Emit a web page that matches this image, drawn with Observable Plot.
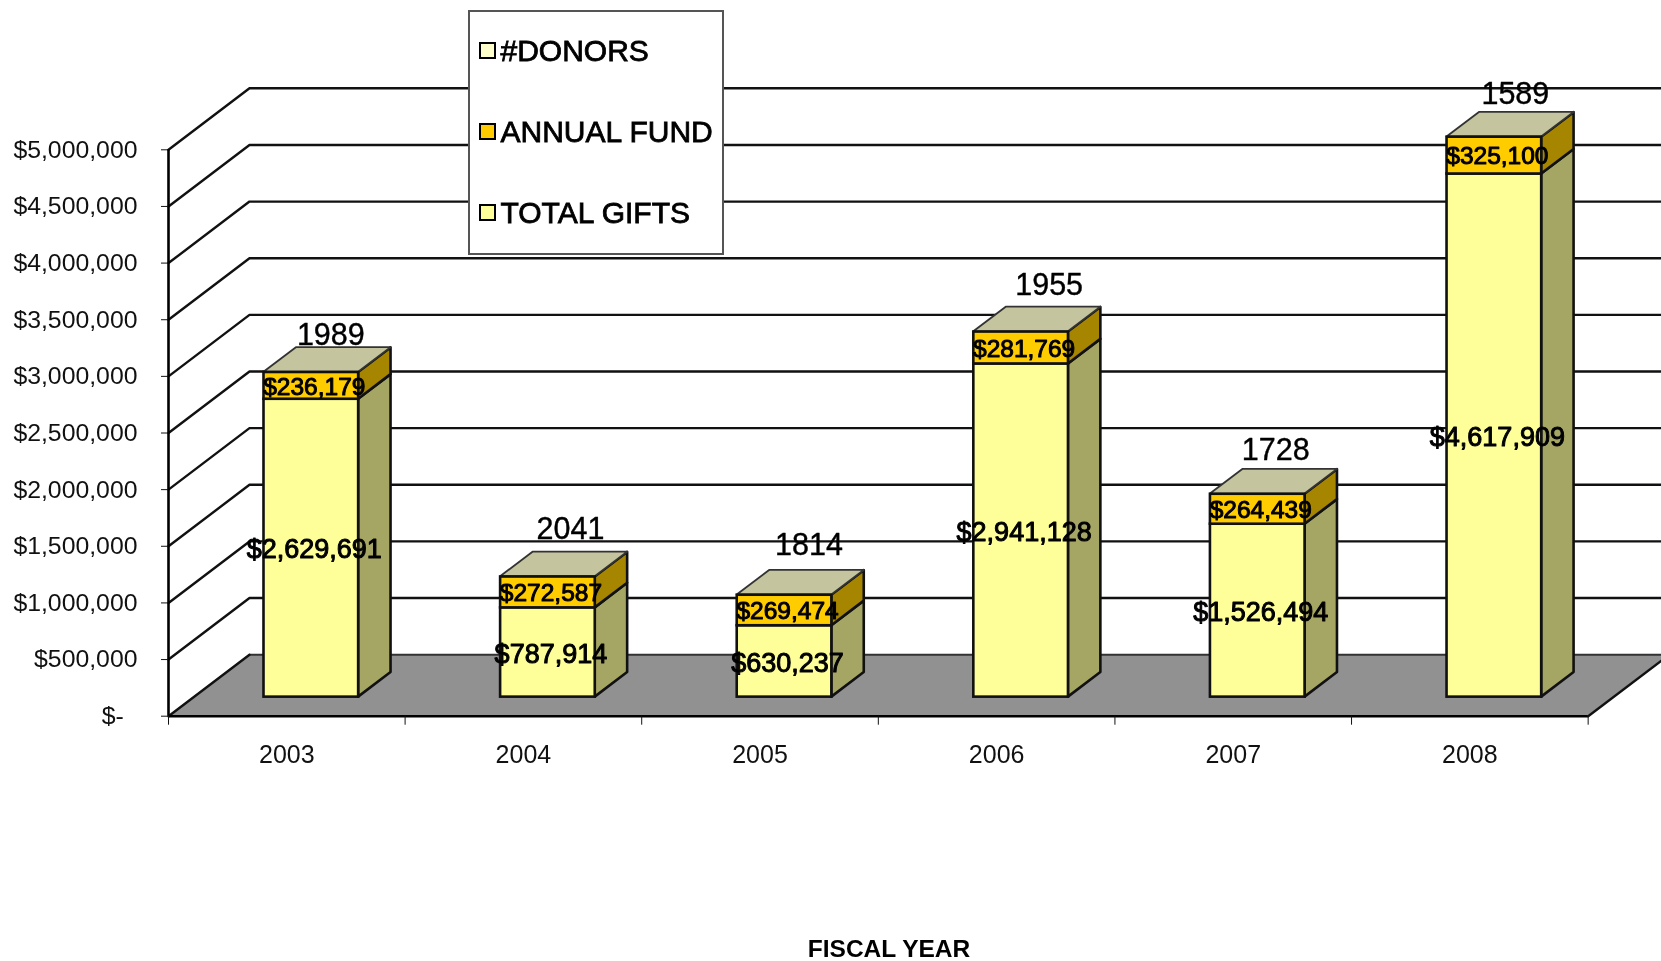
<!DOCTYPE html>
<html>
<head>
<meta charset="utf-8">
<script src="https://cdn.jsdelivr.net/npm/d3@7"></script>
<script src="https://cdn.jsdelivr.net/npm/@observablehq/plot@0.6"></script>
<style>
  html, body { margin: 0; padding: 0; background: #fff; }
  #wrap { position: relative; width: 1661px; height: 961px; overflow: hidden; font-family: "Liberation Sans", Arial, sans-serif; filter: blur(0.45px); }
  #wrap svg { display: block; }
  #legend { position: absolute; left: 467.5px; top: 9.5px; width: 252.5px; height: 241px; box-sizing: content-box; background: #fff; border: 2px solid #555; }
  #legend .row { position: absolute; left: 0; display: flex; align-items: center; height: 36px; white-space: nowrap; font-size: 30px; color: #000; -webkit-text-stroke: 0.8px #000; }
  #legend .sw { display: inline-block; width: 13px; height: 13px; border: 2px solid #000; margin-left: 9px; margin-right: 5px; -webkit-text-stroke: 0; }
</style>
</head>
<body>
<div id="wrap">
  <div id="chart"></div>
  <div id="legend"></div>
</div>
<script>
// ---- chart values ----
const years = ["2003", "2004", "2005", "2006", "2007", "2008"];
const totalGifts = [2629691, 787914, 630237, 2941128, 1526494, 4617909];
const annualFund = [236179, 272587, 269474, 281769, 264439, 325100];
const donors = [1989, 2041, 1814, 1955, 1728, 1589];
const yTicks = [0, 500000, 1000000, 1500000, 2000000, 2500000, 3000000, 3500000, 4000000, 4500000, 5000000];
const legendNames = ["#DONORS", "ANNUAL FUND", "TOTAL GIFTS"];

// ---- colours ----
const colTotal = "#FFFF99", colTotalSide = "#A6A664";
const colFund = "#FFCC00", colFundSide = "#A68500";
const colDonorTop = "#C4C49E", colDonorSwatch = "#FFFFCC", colFloor = "#919191";

// ---- oblique 3D projection, expressed in scale units ----
const depthX = 0.3423, depthY = 542900;      // full depth of the chart box
const frontD = 0.31, barD = 0.40;            // where a bar starts, how deep it is
const barLeft = 0.2975, barWidth = 0.4;      // within each category band
const xMax = 6.31, yMax = 5000000;
const project = (x, y, d) => [x + d * depthX, y + d * depthY];

const marks = [];
const font = {fontFamily: "Liberation Sans, Arial, sans-serif"};

// wall grid lines
for (const v of yTicks) {
  if (v === 0) continue;
  const pts = [project(0, v, 0), project(0, v, 1), [xMax, v + depthY]];
  marks.push(Plot.line(pts, {x: d => d[0], y: d => d[1], stroke: "#111", strokeWidth: 2.4}));
}

// floor
const floorPts = [
  {x: 0, y1: 0, y2: 0},
  {x: depthX, y1: 0, y2: depthY},
  {x: 6, y1: 0, y2: depthY},
  {x: 6 + depthX, y1: depthY, y2: depthY}
];
marks.push(Plot.areaY(floorPts, {x: "x", y1: "y1", y2: "y2", fill: colFloor, curve: "linear"}));
marks.push(Plot.line([[depthX, depthY], [xMax, depthY]], {stroke: "#333", strokeWidth: 2}));
marks.push(Plot.line([[0, 0], [depthX, depthY]], {stroke: "#111", strokeWidth: 2.4}));
marks.push(Plot.line([[6, 0], [6 + depthX, depthY]], {stroke: "#111", strokeWidth: 2.4}));

// bars
years.forEach((yr, i) => {
  const [x0, yBase] = project(i + barLeft, 0, frontD);
  const x1 = x0 + barWidth;
  const bx = barD * depthX, by = barD * depthY;
  const yGift = yBase + totalGifts[i];
  const yFund = yGift + annualFund[i];
  const yTop = yFund + donors[i];
  const edge = {stroke: "#111", strokeWidth: 2.6, strokeLinejoin: "round", curve: "linear"};
  const sideOf = (lo, hi) => [
    {x: x1, y1: lo, y2: hi},
    {x: x1 + bx, y1: lo + by, y2: hi + by}
  ];
  const topFace = [
    {x: x0, y1: yTop, y2: yTop},
    {x: x0 + bx, y1: yTop, y2: yTop + by},
    {x: x1, y1: yTop, y2: yTop + by},
    {x: x1 + bx, y1: yTop + by, y2: yTop + by}
  ];
  marks.push(Plot.areaY(sideOf(yBase, yGift), {x: "x", y1: "y1", y2: "y2", fill: colTotalSide, ...edge}));
  marks.push(Plot.areaY(sideOf(yGift, yFund), {x: "x", y1: "y1", y2: "y2", fill: colFundSide, ...edge}));
  marks.push(Plot.areaY(topFace, {x: "x", y1: "y1", y2: "y2", fill: colDonorTop, ...edge, strokeWidth: 1.8, stroke: "#333"}));
  marks.push(Plot.rect([0], {x1: () => x0, x2: () => x1, y1: () => yBase, y2: () => yGift, fill: colTotal, stroke: "#111", strokeWidth: 2.6}));
  marks.push(Plot.rect([0], {x1: () => x0, x2: () => x1, y1: () => yGift, y2: () => yFund, fill: colFund, stroke: "#111", strokeWidth: 2.6}));
});

// value labels
const donorDx = [19.5, 22.5, 24.5, 28, 18, 21];
const donorDy = [-37, -48, -50, -46.5, -44.5, -42.5];
years.forEach((yr, i) => {
  const [x0, yBase] = project(i + barLeft, 0, frontD);
  const cx = x0 + barWidth / 2;
  const heavy = {fill: "#000", stroke: "#000", strokeWidth: 1, lineAnchor: "middle", textAnchor: "middle", ...font};
  const fmt = d3.format("$,");
  marks.push(Plot.text([0], {x: () => cx, y: () => yBase + totalGifts[i] / 2, text: () => fmt(totalGifts[i]), fontSize: 27, dx: 3, dy: 1.5, ...heavy}));
  marks.push(Plot.text([0], {x: () => cx, y: () => yBase + totalGifts[i] + annualFund[i] / 2, text: () => fmt(annualFund[i]), fontSize: 24.5, dx: 3, dy: 1, ...heavy}));
  marks.push(Plot.text([0], {x: () => cx, y: () => yBase + totalGifts[i] + annualFund[i], text: () => String(donors[i]), fontSize: 30.5, dx: donorDx[i], dy: donorDy[i], fill: "#000", stroke: "#000", strokeWidth: 0.4, lineAnchor: "middle", textAnchor: "middle", ...font}));
});

// axes
const bandEdges = d3.range(0, 7);
const bandMids = years.map((_, i) => i + 0.5);
const yFmt = v => v === 0 ? "$-\u00a0\u00a0" : d3.format("$,")(v);
marks.push(Plot.ruleX([0], {y1: 0, y2: yMax, stroke: "#000", strokeWidth: 2.6}));
marks.push(Plot.ruleY([0], {x1: 0, x2: 6, stroke: "#000", strokeWidth: 2.6}));
marks.push(Plot.axisY({ticks: yTicks, tickFormat: yFmt, tickSize: 7, tickPadding: 24, fontSize: 24.8, stroke: "#111", color: "#111", label: null, ...font}));
marks.push(Plot.axisX({ticks: bandEdges, tickFormat: () => "", tickSize: 9, stroke: "#111", label: null}));
marks.push(Plot.axisX({ticks: bandMids, tickFormat: v => years[v - 0.5], tickSize: 0, tickPadding: 29, fontSize: 25, color: "#111", label: null, ...font}));
marks.push(Plot.text(["FISCAL YEAR"], {x: () => 3, frameAnchor: "bottom", dy: 233, dx: 10.7, text: d => d, fontSize: 24.5, fontWeight: "bold", fill: "#000", lineAnchor: "middle", textAnchor: "middle", ...font}));

const chart = Plot.plot({
  width: 1661,
  height: 961,
  marginLeft: 168,
  marginRight: 0,
  marginTop: 149.3,
  marginBottom: 245.3,
  x: {type: "linear", domain: [0, xMax], axis: null},
  y: {type: "linear", domain: [0, yMax], axis: null},
  style: {background: "transparent", overflow: "visible", fontFamily: "Liberation Sans, Arial, sans-serif"},
  marks
});
document.getElementById("chart").appendChild(chart);

// legend, in the reference's order, over the chart
const legendColours = [colDonorSwatch, colFund, colTotal];
const legendTops = [32, 113, 194];
const legendEl = document.getElementById("legend");
legendNames.forEach((name, i) => {
  const row = document.createElement("div");
  row.className = "row";
  row.style.top = legendTops[i] - 11 + "px";
  const sw = document.createElement("span");
  sw.className = "sw";
  sw.style.background = legendColours[i];
  row.appendChild(sw);
  row.appendChild(document.createTextNode(name));
  legendEl.appendChild(row);
});
</script>
</body>
</html>
